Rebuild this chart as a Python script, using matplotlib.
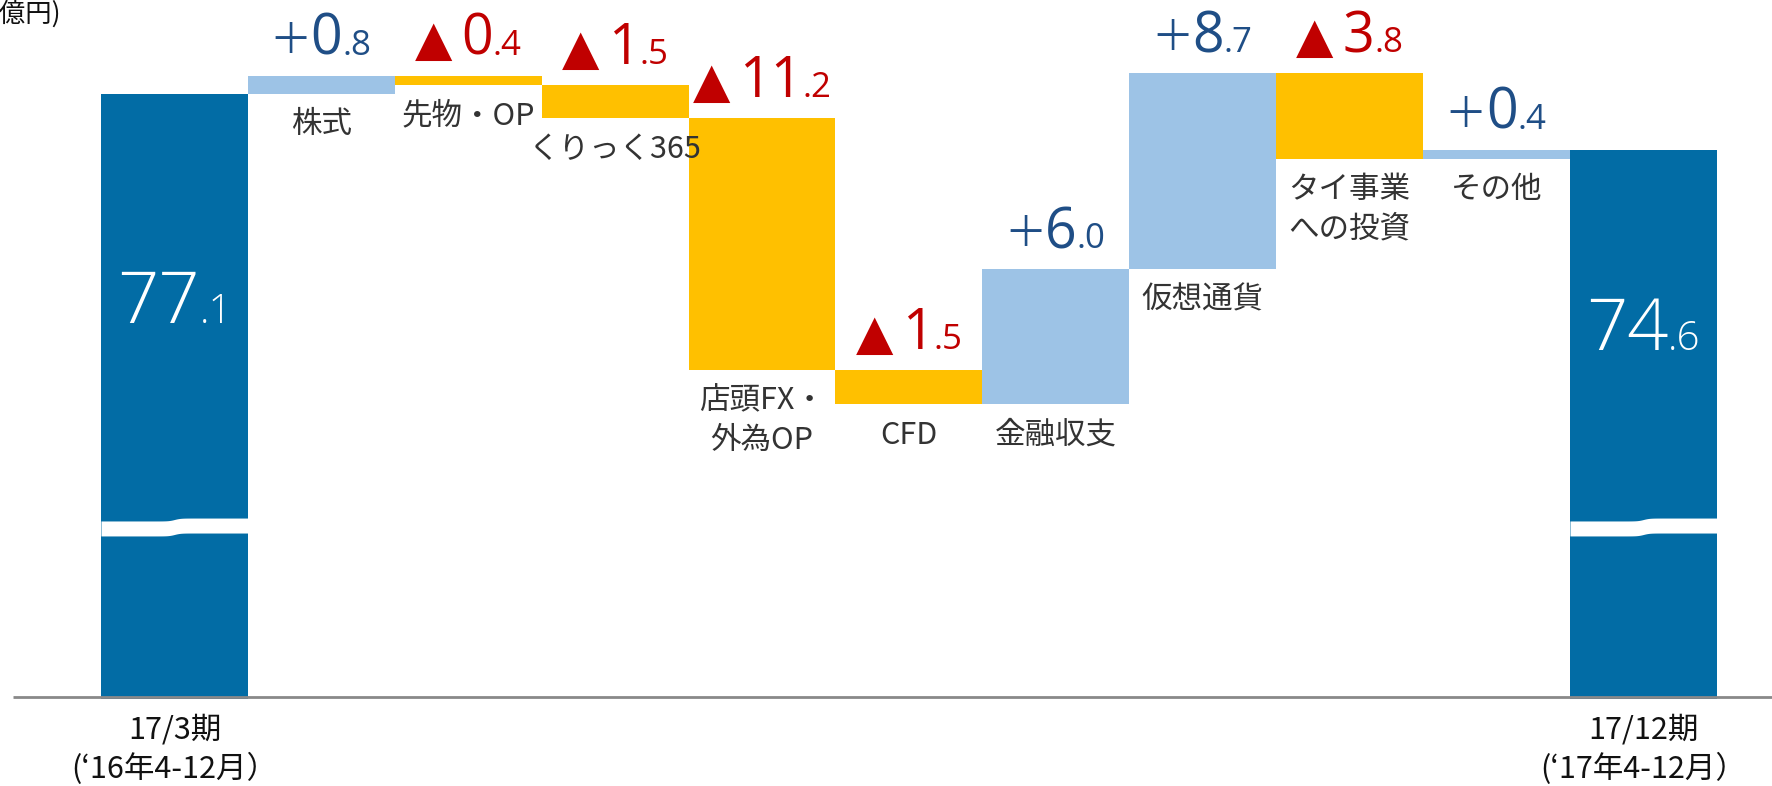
import numpy as np
import matplotlib
matplotlib.use("Agg")
import matplotlib.pyplot as plt

plt.rcParams['font.family'] = ['Noto Sans CJK JP', 'DejaVu Sans']

# data (億円)
categories = ['17/3期\n(‘16年4-12月）', '株式', '先物・OP', 'くりっく365', '店頭FX・\n外為OP',
              'CFD', '金融収支', '仮想通貨', 'タイ事業\nへの投資', 'その他', '17/12期\n(‘17年4-12月）']
start_value = 77.1
changes = [0.8, -0.4, -1.5, -11.2, -1.5, 6.0, 8.7, -3.8, 0.4]
end_value = 74.6
unit_label = '(億円)'

# colours
DARK = '#026CA5'
LIGHT = '#9DC3E6'
YELLOW = '#FFC000'
POS_TXT = '#1F4E86'
NEG_TXT = '#C00000'
CAT_TXT = '#333333'
NUM_FONT = ['Open Sans', 'DejaVu Sans']
SYM_FONT = ['DejaVu Sans']

# layout in output pixels
W, H, DPI = 1772, 786, 100
PX_PER_UNIT = 22.5
TOP_PX = 73.3
STEP_PX = 146.9
FIRST_PX = 174.4

levels = start_value + np.cumsum(changes)
prev = np.concatenate([[start_value], levels[:-1]])
top_level = max(levels.max(), start_value)


def px_to_val(py):
    return top_level - (py - TOP_PX) / PX_PER_UNIT


fig = plt.figure(figsize=(W / DPI, H / DPI), dpi=DPI)
ax = fig.add_axes([0, 0, 1, 1])
ax.axis('off')
ax.set_xlim(-FIRST_PX / STEP_PX, (W - FIRST_PX) / STEP_PX)
ax.set_ylim(px_to_val(H), px_to_val(0))

base = px_to_val(699)
axis_y = px_to_val(697)
break_y = px_to_val(527)
n = len(categories)

# total bars with break marks
for i, v in [(0, start_value), (n - 1, end_value)]:
    ax.bar(i, v - base, bottom=base, width=1.0, color=DARK, lw=0, zorder=2)
    xs = np.linspace(i - 0.5, i + 0.5, 200)
    yc = break_y - 0.065 + 0.13 * 0.5 * (1 + np.tanh((xs - i) / 0.04))
    ax.fill_between(xs, yc - 0.333, yc + 0.333, color='white', lw=0, zorder=3)

# change bars
x_chg = np.arange(1, n - 1)
lows = np.minimum(prev, levels)
highs = np.maximum(prev, levels)
cols = [LIGHT if d > 0 else YELLOW for d in changes]
ax.bar(x_chg, highs - lows, bottom=lows, width=1.0, color=cols, lw=0, zorder=2)

ax.plot([(13 - FIRST_PX) / STEP_PX, (W - FIRST_PX) / STEP_PX], [axis_y, axis_y],
        color='#898989', lw=2, solid_capstyle='butt', zorder=4)

renderer = fig.canvas.get_renderer()


def mixed_label(x, y, parts, dy, color):
    # parts: (text, fontsize, gap before px, vertical shift px, family, weight)
    texts, widths = [], []
    for s, fs, g, sh, fam, wt in parts:
        t = ax.annotate(s, (x, y), xytext=(0, dy + sh), textcoords='offset pixels',
                        ha='left', va='baseline', fontsize=fs, color=color,
                        family=fam, weight=wt, zorder=5)
        texts.append(t)
        widths.append(t.get_window_extent(renderer).width)
    total = sum(widths) + sum(p[2] for p in parts[1:])
    cx = -total / 2
    for k, (t, w, p) in enumerate(zip(texts, widths, parts)):
        if k:
            cx += p[2]
        t.xyann = (cx, dy + p[3])
        cx += w


def split_num(v):
    s = f"{abs(v):.1f}"
    a, b = s.split('.')
    return a, '.' + b


# value labels for changes
for x, d, hi in zip(x_chg, changes, highs):
    a, b = split_num(d)
    if d > 0:
        parts = [('+', 48, 0, -6, NUM_FONT, 'light'),
                 (a, 40, 1, 0, NUM_FONT, 'normal'),
                 (b, 25, 0, 0, NUM_FONT, 'normal')]
    else:
        parts = [('▲', 35, 0, 0, SYM_FONT, 'normal'),
                 (a, 40, 9, 0, NUM_FONT, 'normal'),
                 (b, 25, 0, 0, NUM_FONT, 'normal')]
    mixed_label(x, hi, parts, 21, POS_TXT if d > 0 else NEG_TXT)

# total labels inside bars
for i, v in [(0, start_value), (n - 1, end_value)]:
    a, b = split_num(v)
    yb = v - 0.53 * (v - break_y)
    mixed_label(i, yb, [(a, 52, 0, 0, NUM_FONT, 'light'),
                        (b, 29, 0, 0, NUM_FONT, 'light')], 0, 'white')

# category labels below change bars
for x, lo, lab in zip(x_chg, lows, categories[1:-1]):
    for k, line in enumerate(lab.split('\n')):
        ax.annotate(line, (x, lo), xytext=(0, -31 - 39 * k), textcoords='offset pixels',
                    ha='center', va='center', fontsize=22, color=CAT_TXT)

# total labels under axis
for i in [0, n - 1]:
    for k, line in enumerate(categories[i].split('\n')):
        ax.annotate(line, (i, axis_y), xytext=(0, -33.5 - 38 * k), textcoords='offset pixels',
                    ha='center', va='center', fontsize=22, color='#111111')

fig.text(-9 / W, 1 - 14 / H, unit_label, ha='left', va='center', fontsize=19, color='#111111')

fig.savefig('out.png', dpi=DPI)
